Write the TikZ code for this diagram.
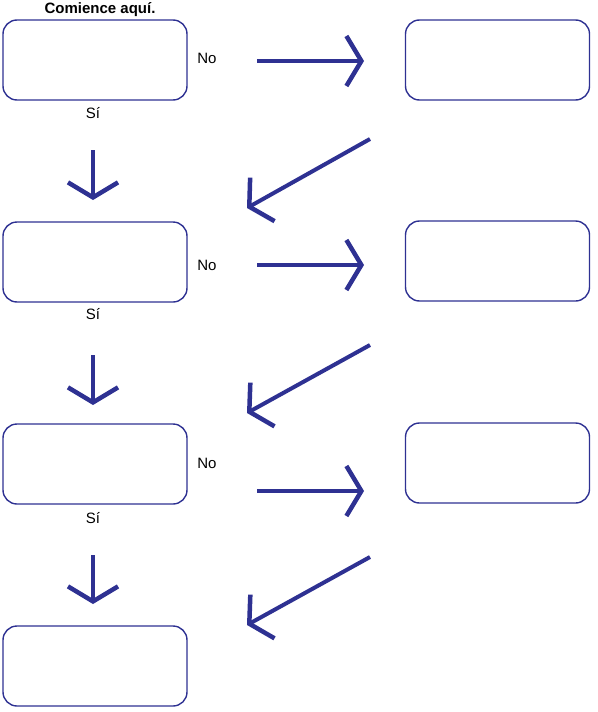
\documentclass[tikz,border=0pt]{standalone}
\usepackage{fontspec}
\setmainfont{Liberation Sans}
\usetikzlibrary{arrows.meta}
\definecolor{flowblue}{HTML}{2E3192}

\begin{document}
\begin{tikzpicture}[
    x=1pt, y=-1pt,
    box/.style={draw=flowblue, line width=1.4pt, rounded corners=14pt, minimum width=184pt, minimum height=80pt, inner sep=0pt},
    lbl/.style={font=\fontsize{15}{17}\selectfont, inner sep=0pt},
    arr/.style={draw=flowblue, line width=4pt, -{Straight Barb[length=15pt, width=50pt, line width=4.5pt]}}
]
    \useasboundingbox (0,0) rectangle (597,712);

    % left column
    \node[box] (q1) at (95,60) {};
    \node[box] (q2) at (95,262) {};
    \node[box] (q3) at (95,464) {};
    \node[box] (q4) at (95,666) {};

    % right column
    \node[box] (r1) at (497.5,60) {};
    \node[box] (r2) at (497.5,261) {};
    \node[box] (r3) at (497.5,463) {};

    % labels
    \node[lbl, font=\fontsize{15}{17}\selectfont\bfseries] (start) at (100,10) {Comience aquí.};
    \node[lbl] (no1) at (207,58) {No};
    \node[lbl] (no2) at (207,265) {No};
    \node[lbl] (no3) at (207,463) {No};
    \node[lbl] (si1) at (93,113) {Sí};
    \node[lbl] (si2) at (93,314) {Sí};
    \node[lbl] (si3) at (93,518) {Sí};

    % arrow ends
    \coordinate (a1s) at (257,61);  \coordinate (a1e) at (364,61);
    \coordinate (a2s) at (257,265); \coordinate (a2e) at (364,265);
    \coordinate (a3s) at (257,491); \coordinate (a3e) at (364,491);
    \coordinate (d1s) at (93,150);  \coordinate (d1e) at (93,200);
    \coordinate (d2s) at (93,355);  \coordinate (d2e) at (93,405);
    \coordinate (d3s) at (93,555);  \coordinate (d3e) at (93,604);
    \coordinate (b1s) at (370,139); \coordinate (b1e) at (247,208);
    \coordinate (b2s) at (370,345); \coordinate (b2e) at (247,413);
    \coordinate (b3s) at (370,557); \coordinate (b3e) at (247,625);

    \draw[arr] (a1s) -- (a1e);
    \draw[arr] (a2s) -- (a2e);
    \draw[arr] (a3s) -- (a3e);
    \draw[arr] (d1s) -- (d1e);
    \draw[arr] (d2s) -- (d2e);
    \draw[arr] (d3s) -- (d3e);
    \draw[arr] (b1s) -- (b1e);
    \draw[arr] (b2s) -- (b2e);
    \draw[arr] (b3s) -- (b3e);
\end{tikzpicture}
\end{document}
